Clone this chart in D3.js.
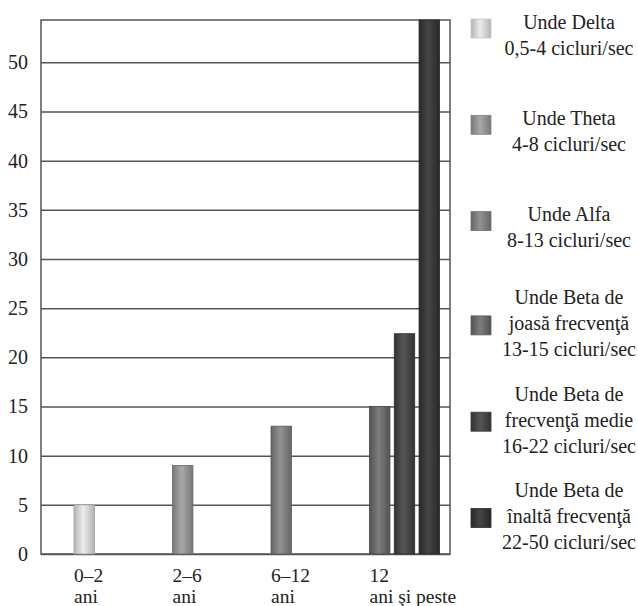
<!DOCTYPE html>
<html>
<head>
<meta charset="utf-8">
<script src="https://cdn.jsdelivr.net/npm/d3@7"></script>
<style>
  body { margin: 0; background: #fff; }
</style>
</head>
<body>
<div id="chart"></div>
<script>
// categorii de vârstă (etichete pe două rânduri)
const categories = ["0–2 ani", "2–6 ani", "6–12 ani", "12 ani şi peste"];
const categoryLines = [["0–2", "ani"], ["2–6", "ani"], ["6–12", "ani"], ["12", "ani şi peste"]];

// serii (tipuri de unde) si textul legendei
const seriesNames = ["delta", "theta", "alfa", "betaLow", "betaMed", "betaHigh"];
const legendLines = [
  ["Unde Delta", "0,5-4 cicluri/sec"],
  ["Unde Theta", "4-8 cicluri/sec"],
  ["Unde Alfa", "8-13 cicluri/sec"],
  ["Unde Beta de", "joasă frecvenţă", "13-15 cicluri/sec"],
  ["Unde Beta de", "frecvenţă medie", "16-22 cicluri/sec"],
  ["Unde Beta de", "înaltă frecvenţă", "22-50 cicluri/sec"]
];

// valori pe categorii (0 = fara bara)
const delta    = [5, 0, 0, 0];
const theta    = [0, 9, 0, 0];
const alfa     = [0, 0, 13, 0];
const betaLow  = [0, 0, 0, 15];
const betaMed  = [0, 0, 0, 22.4];
const betaHigh = [0, 0, 0, 54.3];

const yTicks = [0, 5, 10, 15, 20, 25, 30, 35, 40, 45, 50];
const yMax = 54.3;

const seriesValues = [delta, theta, alfa, betaLow, betaMed, betaHigh];

// culori: margine / centru pentru efectul de cilindru
const edgeColors   = ["#b4b4b4", "#787878", "#666666", "#535353", "#333333", "#292929"];
const centerColors = ["#ececec", "#a9a9a9", "#939393", "#7d7d7d", "#565656", "#454545"];

const FONT = "'Liberation Serif', 'Times New Roman', serif";

const W = 638, H = 606;
const margin = { top: 20, right: 188, bottom: 52, left: 41 };
const width = W - margin.left - margin.right;
const height = H - margin.top - margin.bottom;

const svg = d3.select("#chart").append("svg")
  .attr("width", W)
  .attr("height", H)
  .style("font-family", FONT);

const defs = svg.append("defs");
seriesNames.forEach((s, i) => {
  const g = defs.append("linearGradient")
    .attr("id", "grad-" + s)
    .attr("x1", "0").attr("x2", "1").attr("y1", "0").attr("y2", "0");
  g.append("stop").attr("offset", "0%").attr("stop-color", edgeColors[i]);
  g.append("stop").attr("offset", "45%").attr("stop-color", centerColors[i]);
  g.append("stop").attr("offset", "100%").attr("stop-color", edgeColors[i]);
});

const chart = svg.append("g")
  .attr("transform", `translate(${margin.left},${margin.top})`);

const y = d3.scaleLinear()
  .domain([0, yMax])
  .range([height, 0]);

// pozitia grupelor (barele sunt aliniate la stanga grupei)
const x0 = d3.scaleBand()
  .domain(categories)
  .range([33, 33 + 4 * 98.5])
  .paddingInner(0);

const x1 = d3.scaleBand()
  .domain([0, 1, 2])
  .range([0, 70])
  .paddingInner(0.175);

// grila + axa Y
chart.append("g")
  .call(d3.axisLeft(y).tickValues(yTicks).tickSize(-width).tickPadding(13))
  .attr("font-family", null)
  .attr("font-size", 20)
  .call(g => g.select(".domain").remove())
  .call(g => g.selectAll(".tick line")
    .attr("stroke", "#555").attr("stroke-width", 1.5))
  .call(g => g.selectAll(".tick text").attr("fill", "#222"));

// rama
chart.append("rect")
  .attr("x", 0).attr("y", 0)
  .attr("width", width).attr("height", height)
  .attr("fill", "none")
  .attr("stroke", "#555")
  .attr("stroke-width", 1.5);

// bare
const bars = [];
categories.forEach((c, ci) => {
  let k = 0;
  seriesValues.forEach((vals, si) => {
    if (vals[ci] > 0) {
      bars.push({ cat: c, series: seriesNames[si], si: si, value: vals[ci], slot: k });
      k++;
    }
  });
});

chart.selectAll(".bar")
  .data(bars)
  .enter()
  .append("rect")
  .attr("class", "bar")
  .attr("x", d => x0(d.cat) + x1(d.slot))
  .attr("y", d => y(d.value))
  .attr("width", x1.bandwidth())
  .attr("height", d => y(0) - y(d.value))
  .attr("fill", d => `url(#grad-${d.series})`)
  .attr("stroke", d => d3.color(edgeColors[d.si]).darker(0.4))
  .attr("stroke-width", 0.8);

// etichete X
const xLab = chart.append("g");
categories.forEach((c, ci) => {
  const t = xLab.append("text")
    .attr("x", x0(c))
    .attr("y", height + 28)
    .attr("font-size", 19.5)
    .attr("fill", "#222");
  categoryLines[ci].forEach((line, li) => {
    t.append("tspan")
      .attr("x", x0(c))
      .attr("dy", li === 0 ? 0 : 21)
      .text(line);
  });
});

// legenda
const legY = d3.scalePoint()
  .domain(seriesNames)
  .range([34.5, 516]);

const lineH = 26;
const legend = svg.append("g");
seriesNames.forEach((s, i) => {
  const lines = legendLines[i];
  const cy = legY(s);
  const firstY = cy - (lines.length - 1) * lineH / 2;
  const sw = cy + (lines.length === 2 ? -6 : 2);

  legend.append("rect")
    .attr("x", 471)
    .attr("y", sw - 9.5)
    .attr("width", 20)
    .attr("height", 19)
    .attr("fill", `url(#grad-${s})`)
    .attr("stroke", d3.color(edgeColors[i]).brighter(0.3))
    .attr("stroke-width", 0.8);

  const t = legend.append("text")
    .attr("text-anchor", "middle")
    .attr("dominant-baseline", "central")
    .attr("font-size", 20)
    .attr("fill", "#222");
  lines.forEach((line, li) => {
    t.append("tspan")
      .attr("x", 569)
      .attr("y", firstY + li * lineH)
      .text(line);
  });
});
</script>
</body>
</html>
